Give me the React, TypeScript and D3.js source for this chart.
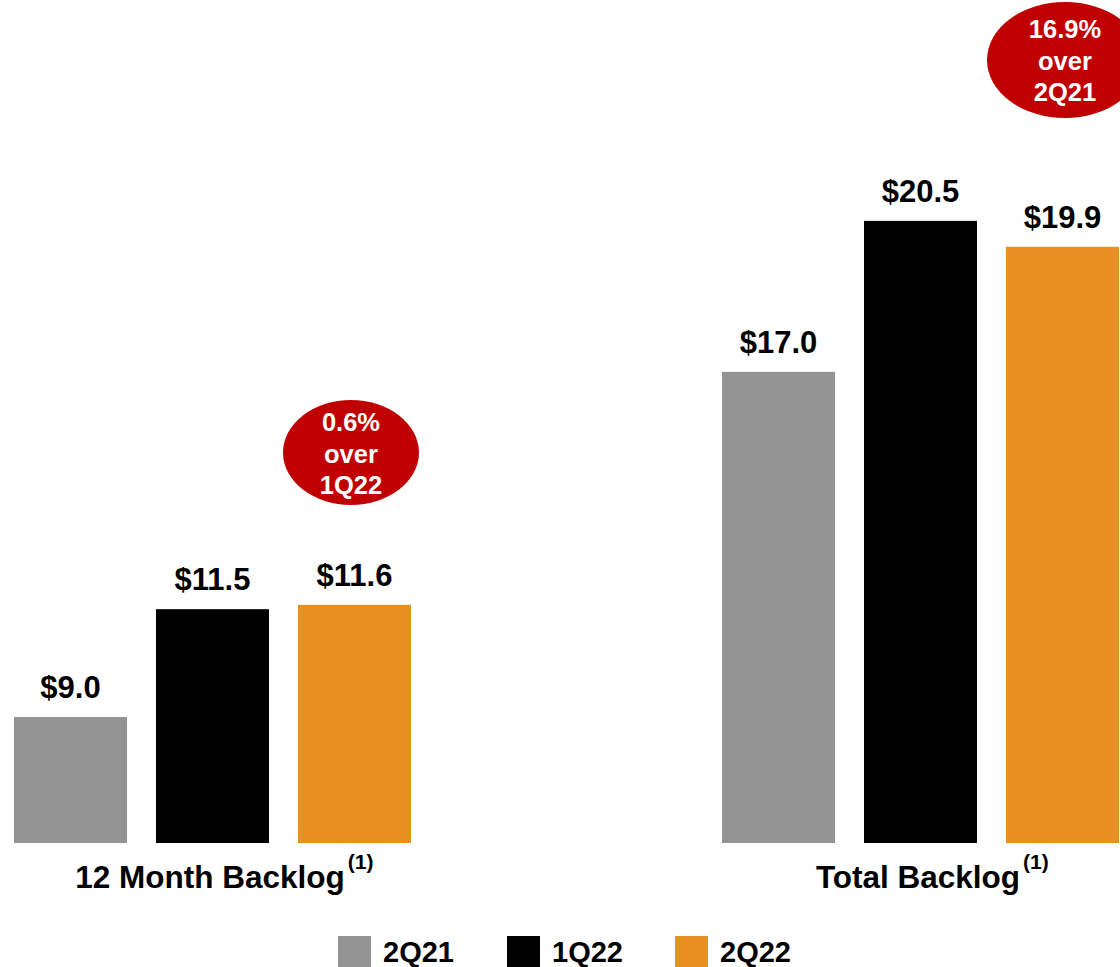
import React, { useEffect, useRef } from "react";
import * as d3 from "d3";

const categories = ["12 Month Backlog", "Total Backlog"];
const seriesNames = ["2Q21", "1Q22", "2Q22"];
const values2Q21 = [9.0, 17.0];
const values1Q22 = [11.5, 20.5];
const values2Q22 = [11.6, 19.9];
const calloutLines = [
  ["0.6%", "over", "1Q22"],
  ["16.9%", "over", "2Q21"],
];
const footnote = "(1)";

const W = 1120;
const H = 967;
const COLORS = ["#939393", "#000000", "#E99020"];
const RED = "#C00000";
const FONT = "'Liberation Sans', Arial, Helvetica, sans-serif";

export default function App() {
  const ref = useRef<SVGSVGElement | null>(null);

  useEffect(() => {
    const svg = d3.select(ref.current);
    svg.selectAll("*").remove();

    const baseline = 843;
    const y = d3.scaleLinear().domain([6.08, 25.62]).range([baseline, 0]);
    const x0 = d3.scaleBand<string>().domain(categories).range([14, 1119]).paddingInner(0.4393).paddingOuter(0);
    const x1 = d3.scaleBand<string>().domain(seriesNames).range([0, x0.bandwidth()]).paddingInner(0.204).paddingOuter(0);

    const seriesValues = [values2Q21, values1Q22, values2Q22];

    const g = svg.append("g");

    categories.forEach((cat, ci) => {
      const gx = x0(cat)!;
      seriesNames.forEach((s, si) => {
        const v = seriesValues[si][ci];
        const bx = gx + x1(s)!;
        g.append("rect")
          .attr("x", bx)
          .attr("y", y(v))
          .attr("width", x1.bandwidth())
          .attr("height", baseline - y(v))
          .attr("fill", COLORS[si]);
        g.append("text")
          .attr("x", bx + x1.bandwidth() / 2)
          .attr("y", y(v) - 19)
          .attr("text-anchor", "middle")
          .attr("font-family", FONT)
          .attr("font-weight", "bold")
          .attr("font-size", 31)
          .attr("fill", "#000")
          .text("$" + v.toFixed(1));
      });

      const cx = gx + x0.bandwidth() / 2 - 2.5;
      const t = g.append("text")
        .attr("x", cx)
        .attr("y", 888)
        .attr("text-anchor", "middle")
        .attr("font-family", FONT)
        .attr("font-weight", "bold")
        .attr("font-size", 31.5)
        .attr("fill", "#000")
        .text(cat);
      const len = (t.node() as SVGTextElement).getComputedTextLength();
      g.append("text")
        .attr("x", cx + len / 2 + 3)
        .attr("y", 869)
        .attr("font-family", FONT)
        .attr("font-weight", "bold")
        .attr("font-size", 21)
        .attr("fill", "#000")
        .text(footnote);
    });

    const bubbleLayout = [
      { dx: -3.5, cy: 452.5, rx: 68, ry: 52.5, firstBaseline: 431 },
      { dx: 2.5, cy: 60, rx: 78, ry: 58, firstBaseline: 38 },
    ];
    categories.forEach((cat, ci) => {
      const L = bubbleLayout[ci];
      const ox = x0(cat)! + x1(seriesNames[2])! + x1.bandwidth() / 2 + L.dx;
      g.append("ellipse")
        .attr("cx", ox)
        .attr("cy", L.cy)
        .attr("rx", L.rx)
        .attr("ry", L.ry)
        .attr("fill", RED);
      calloutLines[ci].forEach((line, li) => {
        g.append("text")
          .attr("x", ox)
          .attr("y", L.firstBaseline + li * 31.5)
          .attr("text-anchor", "middle")
          .attr("font-family", FONT)
          .attr("font-weight", "bold")
          .attr("font-size", 25.5)
          .attr("fill", "#fff")
          .text(line);
      });
    });

    const legendX = [338, 507, 675];
    seriesNames.forEach((s, si) => {
      g.append("rect")
        .attr("x", legendX[si])
        .attr("y", 936)
        .attr("width", 33)
        .attr("height", 31)
        .attr("fill", COLORS[si]);
      g.append("text")
        .attr("x", legendX[si] + 45)
        .attr("y", 962)
        .attr("font-family", FONT)
        .attr("font-weight", "bold")
        .attr("font-size", 29)
        .attr("fill", "#000")
        .text(s);
    });
  }, []);

  return (
    <svg
      ref={ref}
      width={W}
      height={H}
      style={{ position: "absolute", left: 0, top: 0, display: "block", background: "#fff" }}
    />
  );
}
